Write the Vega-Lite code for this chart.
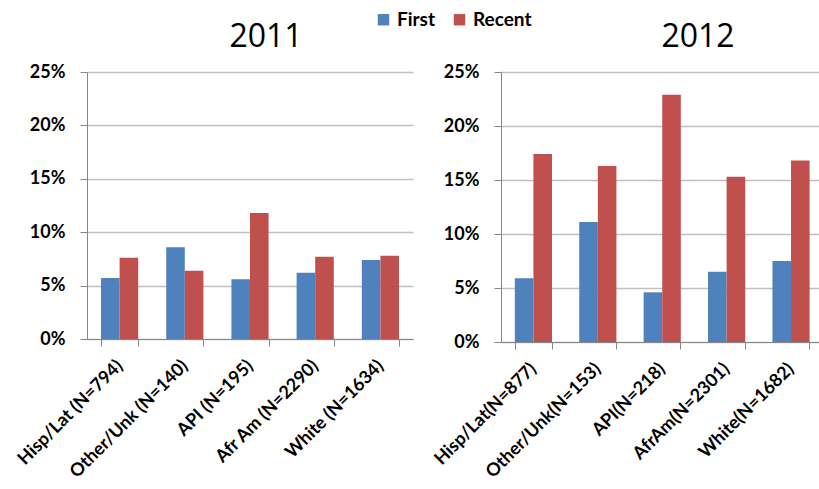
{
  "$schema": "https://vega.github.io/schema/vega-lite/v6.json",
  "padding": {"left": 14, "top": 10, "right": 0, "bottom": 0},
  "background": "white",
  "datasets": {
    "d2011": [
      {"group": "Hisp/Lat (N=794)", "series": "First", "value": 0.057},
      {"group": "Hisp/Lat (N=794)", "series": "Recent", "value": 0.076},
      {"group": "Other/Unk (N=140)", "series": "First", "value": 0.086},
      {"group": "Other/Unk (N=140)", "series": "Recent", "value": 0.064},
      {"group": "API (N=195)", "series": "First", "value": 0.056},
      {"group": "API (N=195)", "series": "Recent", "value": 0.118},
      {"group": "Afr Am (N=2290)", "series": "First", "value": 0.062},
      {"group": "Afr Am (N=2290)", "series": "Recent", "value": 0.077},
      {"group": "White (N=1634)", "series": "First", "value": 0.074},
      {"group": "White (N=1634)", "series": "Recent", "value": 0.078}
    ],
    "d2012": [
      {"group": "Hisp/Lat(N=877)", "series": "First", "value": 0.059},
      {"group": "Hisp/Lat(N=877)", "series": "Recent", "value": 0.174},
      {"group": "Other/Unk(N=153)", "series": "First", "value": 0.111},
      {"group": "Other/Unk(N=153)", "series": "Recent", "value": 0.163},
      {"group": "API(N=218)", "series": "First", "value": 0.046},
      {"group": "API(N=218)", "series": "Recent", "value": 0.229},
      {"group": "AfrAm(N=2301)", "series": "First", "value": 0.065},
      {"group": "AfrAm(N=2301)", "series": "Recent", "value": 0.153},
      {"group": "White(N=1682)", "series": "First", "value": 0.075},
      {"group": "White(N=1682)", "series": "Recent", "value": 0.168}
    ]
  },
  "bounds": "flush",
  "spacing": 88,
  "hconcat": [
    {
      "width": 326,
      "height": 267,
      "data": {"name": "d2011"},
      "title": {"text": "2011", "dx": 16},
      "mark": {"type": "bar"},
      "encoding": {
        "x": {
          "field": "group", "type": "nominal",
          "sort": ["Hisp/Lat (N=794)", "Other/Unk (N=140)", "API (N=195)", "Afr Am (N=2290)", "White (N=1634)"],
          "scale": {"paddingInner": 0.43, "paddingOuter": 0.215},
          "axis": {"title": null}
        },
        "xOffset": {"field": "series", "type": "nominal", "sort": ["First", "Recent"]},
        "y": {
          "field": "value", "type": "quantitative",
          "scale": {"domain": [0, 0.25]},
          "axis": {"title": null, "values": [0, 0.05, 0.1, 0.15, 0.2, 0.25], "format": ".0%"}
        },
        "color": {
          "field": "series", "type": "nominal",
          "scale": {"domain": ["First", "Recent"], "range": ["#4F81BD", "#C0504D"]},
          "legend": {"orient": "none", "legendX": 287, "legendY": -62, "direction": "horizontal", "title": null}
        }
      }
    },
    {
      "width": 322,
      "height": 270,
      "data": {"name": "d2012"},
      "title": {"text": "2012", "dx": 36},
      "mark": {"type": "bar"},
      "encoding": {
        "x": {
          "field": "group", "type": "nominal",
          "sort": ["Hisp/Lat(N=877)", "Other/Unk(N=153)", "API(N=218)", "AfrAm(N=2301)", "White(N=1682)"],
          "scale": {"paddingInner": 0.43, "paddingOuter": 0.215},
          "axis": {"title": null}
        },
        "xOffset": {"field": "series", "type": "nominal", "sort": ["First", "Recent"]},
        "y": {
          "field": "value", "type": "quantitative",
          "scale": {"domain": [0, 0.25]},
          "axis": {"title": null, "values": [0, 0.05, 0.1, 0.15, 0.2, 0.25], "format": ".0%"}
        },
        "color": {
          "field": "series", "type": "nominal",
          "scale": {"domain": ["First", "Recent"], "range": ["#4F81BD", "#C0504D"]},
          "legend": {"orient": "none", "legendX": 287, "legendY": -62, "direction": "horizontal", "title": null}
        }
      }
    }
  ],
  "config": {
    "view": {"stroke": null},
    "font": "Lato",
    "title": {"fontSize": 32, "fontWeight": "normal", "font": "Open Sans", "color": "#000", "offset": 9, "anchor": "middle"},
    "axis": {
      "labelFont": "Lato", "labelFontWeight": "bold", "labelFontSize": 18, "labelColor": "#000",
      "domainColor": "#868686", "tickColor": "#868686", "gridColor": "#BFBFBF", "gridWidth": 1.5, "tickSize": 7
    },
    "axisX": {"labelAngle": -45, "labelAlign": "right", "labelBaseline": "middle", "tickBand": "extent", "grid": false, "labelPadding": 17, "labelFontSize": 18},
    "axisY": {"grid": true, "labelPadding": 15, "domain": true},
    "legend": {"labelFont": "Lato", "labelFontSize": 19, "labelFontWeight": "bold", "labelColor": "#000", "symbolType": "square", "symbolSize": 130, "symbolStrokeWidth": 0, "columnPadding": 14}
  }
}
